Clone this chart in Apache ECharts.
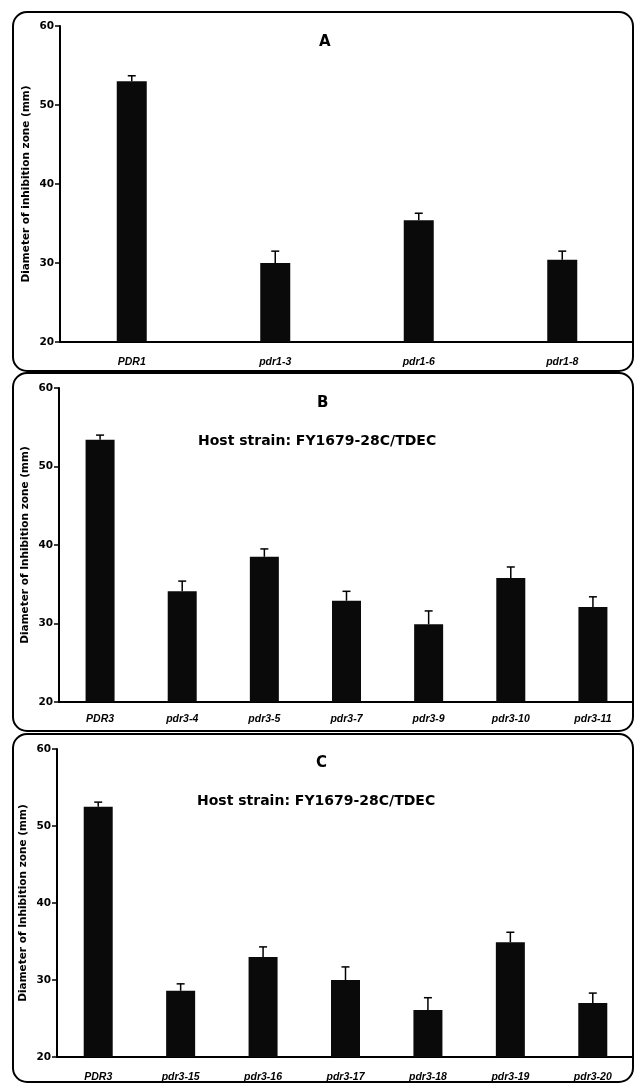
<!DOCTYPE html>
<html><head><meta charset="utf-8">
<script src="https://cdn.jsdelivr.net/npm/echarts@6/dist/echarts.min.js"></script>
<style>html,body{margin:0;padding:0;background:#fff}#c{width:634px;height:1085px}</style>
</head><body><div id="c"></div>
<script>
const catA = ['PDR1','pdr1-3','pdr1-6','pdr1-8'];
const valA = [53.0, 30.0, 35.4, 30.4];
const errA = [0.7, 1.5, 0.9, 1.1];
const catB = ['PDR3','pdr3-4','pdr3-5','pdr3-7','pdr3-9','pdr3-10','pdr3-11'];
const valB = [53.4, 34.1, 38.5, 32.9, 29.9, 35.8, 32.1];
const errB = [0.6, 1.3, 1.0, 1.2, 1.7, 1.4, 1.3];
const catC = ['PDR3','pdr3-15','pdr3-16','pdr3-17','pdr3-18','pdr3-19','pdr3-20'];
const valC = [52.5, 28.6, 33.0, 30.0, 26.1, 34.9, 27.0];
const errC = [0.6, 0.9, 1.3, 1.7, 1.6, 1.3, 1.3];
const yTicks = [20, 30, 40, 50, 60];
const yNames = ['Diameter of inhibition zone (mm)','Diameter of Inhibition zone (mm)','Diameter of Inhibition zone (mm)'];

const FONT = '"Liberation Sans", Arial, sans-serif';
const WIDE = '"DejaVu Sans", sans-serif';
const chart = echarts.init(document.getElementById('c'), null, {renderer:'canvas'});

const grids = [
  {left:60, top:26, width:574, height:316},
  {left:59, top:388, width:575, height:314},
  {left:57, top:749, width:577, height:308}
];
const cats = [catA, catB, catC];
const vals = [valA, valB, valC];
const errs = [errA, errB, errC];
const barW = [30, 29, 29];
const labMargin = [15, 12, 15];

function errRender(params, api) {
  const p = api.coord([api.value(0), api.value(1)]);
  const t = api.coord([api.value(0), api.value(1) + api.value(2)]);
  const st = {stroke:'#000', lineWidth:1.5};
  return {type:'group', children:[
    {type:'line', shape:{x1:p[0], y1:p[1], x2:p[0], y2:t[1]}, style:st},
    {type:'line', shape:{x1:p[0]-4, y1:t[1], x2:p[0]+4, y2:t[1]}, style:st}
  ]};
}

const xAxis = [], yAxis = [], series = [];
for (let i = 0; i < 3; i++) {
  xAxis.push({type:'category', gridIndex:i, data:cats[i],
    axisLine:{lineStyle:{color:'#000', width:2}}, axisTick:{show:false},
    axisLabel:{color:'#000', fontFamily:FONT, fontSize:10.5, fontWeight:'bold', fontStyle:'italic', margin:labMargin[i]}});
  yAxis.push({type:'value', gridIndex:i, min:yTicks[0], max:yTicks[yTicks.length-1], interval:10,
    name:yNames[i], nameLocation:'middle', nameGap:28, nameRotate:90, nameMoveOverlap:false,
    nameTextStyle:{color:'#000', fontFamily:WIDE, fontSize:10.5, fontWeight:'bold'},
    axisLine:{show:true, lineStyle:{color:'#000', width:2}},
    axisTick:{show:true, length:5, lineStyle:{color:'#000', width:1.5}},
    axisLabel:{color:'#000', fontFamily:WIDE, fontSize:10.5, fontWeight:'bold', margin:6},
    splitLine:{show:false}});
  series.push({type:'bar', xAxisIndex:i, yAxisIndex:i, data:vals[i], barWidth:barW[i],
    itemStyle:{color:'#0a0a0a'}, silent:true});
  series.push({type:'custom', xAxisIndex:i, yAxisIndex:i, renderItem:errRender,
    data:vals[i].map((v,j)=>[j, v, errs[i][j]]), encode:{x:0, y:1}, z:5, silent:true});
}

const frameStyle = {fill:'none', stroke:'#000', lineWidth:2};
const graphic = [
  {type:'rect', shape:{x:13, y:12, width:620, height:359, r:14}, style:frameStyle},
  {type:'rect', shape:{x:13, y:373, width:620, height:358, r:14}, style:frameStyle},
  {type:'rect', shape:{x:13, y:734, width:620, height:348, r:14}, style:frameStyle},
  {type:'text', left:319, top:35, style:{text:'A', font:'bold 15px '+WIDE, fill:'#000'}},
  {type:'text', left:317, top:396, style:{text:'B', font:'bold 15px '+WIDE, fill:'#000'}},
  {type:'text', left:316, top:756, style:{text:'C', font:'bold 15px '+WIDE, fill:'#000'}},
  {type:'text', left:198, top:434, style:{text:'Host strain: FY1679-28C/TDEC', font:'bold 14px '+WIDE, fill:'#000'}},
  {type:'text', left:197, top:794, style:{text:'Host strain: FY1679-28C/TDEC', font:'bold 14px '+WIDE, fill:'#000'}}
];

chart.setOption({animation:false, backgroundColor:'#fff', grid:grids, xAxis, yAxis, series, graphic});
</script></body></html>
